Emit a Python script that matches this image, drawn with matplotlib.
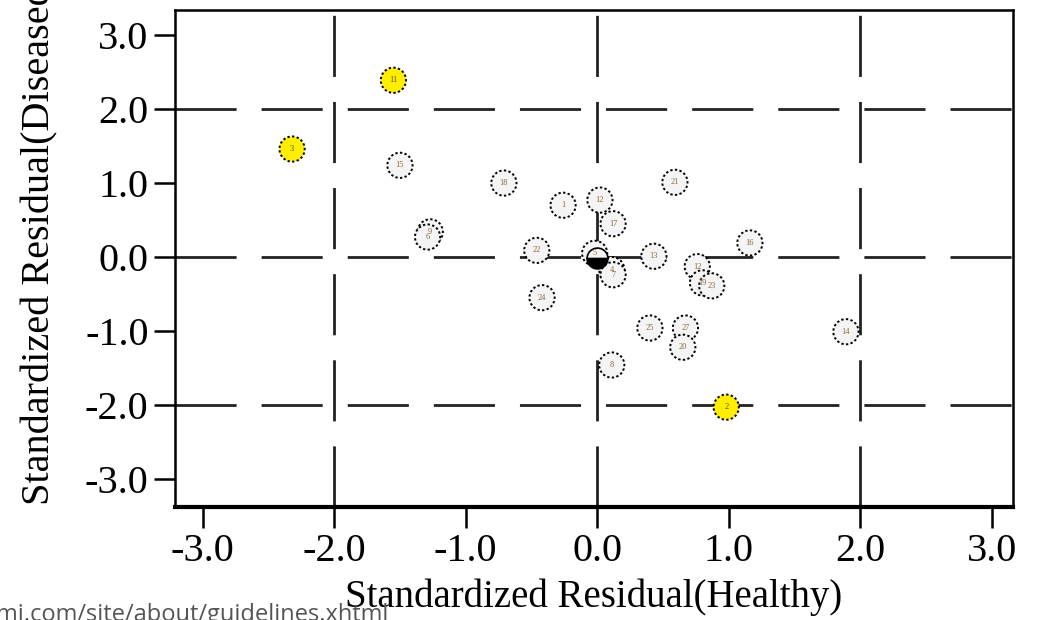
import matplotlib.pyplot as plt

# residual points (healthy, diseased)
flag_x = [-1.55, -2.32, 0.98]
flag_y = [2.39, 1.46, -2.03]
flag_lab = ["11", "3", "2"]

pt_x = [-1.50, -1.27, -1.29, -0.71, -0.26, 0.02, 0.12, 0.59, -0.46, -0.02,
        0.11, 0.12, 0.43, 1.16, 0.76, 0.80, 0.87, -0.42, 0.40, 0.67,
        0.65, 0.11, 1.89]
pt_y = [1.24, 0.34, 0.27, 1.00, 0.70, 0.77, 0.45, 1.01, 0.09, 0.05,
        -0.17, -0.24, 0.01, 0.19, -0.13, -0.35, -0.39, -0.55, -0.96, -0.96,
        -1.22, -1.46, -1.01]
pt_lab = ["15", "9", "6", "18", "1", "12", "17", "21", "22", "5",
          "4", "7", "13", "16", "12", "19", "23", "24", "25", "27",
          "20", "8", "14"]

ticks = [-3, -2, -1, 0, 1, 2, 3]
tick_labels = ["-3.0", "-2.0", "-1.0", "0.0", "1.0", "2.0", "3.0"]

plt.rcParams['font.family'] = ['Liberation Serif', 'DejaVu Serif']

fig = plt.figure(figsize=(10.38, 6.2), dpi=100)
ax = fig.add_axes([175 / 1038, 1 - 507 / 620, 838 / 1038, 497 / 620])

for v in [-2, 0, 2]:
    ax.axvline(v, color="#222222", lw=2, dashes=(22, 9), zorder=1)
    ax.axhline(v, color="#222222", lw=2, dashes=(22, 9), zorder=1)

ax.scatter(pt_x, pt_y, s=330, facecolor="#f4f4f4", edgecolor="black",
           linewidths=1.4, linestyle=(0, (1.2, 1.2)), zorder=3)
ax.scatter(flag_x, flag_y, s=330, facecolor="#ffee00", edgecolor="black",
           linewidths=1.4, linestyle=(0, (1.2, 1.2)), zorder=3)
ax.plot([0.0], [-0.01], marker="o", ms=15, fillstyle="bottom",
        markerfacecolor="black", markerfacecoloralt="#f4f4f4",
        markeredgecolor="black", markeredgewidth=1.2, zorder=4)

for x, y, t in zip(pt_x, pt_y, pt_lab):
    ax.text(x, y, t, fontsize=6, color="#8a6a40", ha="center", va="center", zorder=5)
for x, y, t in zip(flag_x, flag_y, flag_lab):
    ax.text(x, y, t, fontsize=6, color="#555500", ha="center", va="center", zorder=5)

ax.set_xlim(-3.21, 3.16)
ax.set_ylim(-3.38, 3.34)
ax.set_xticks(ticks)
ax.set_xticklabels(tick_labels)
ax.set_yticks(ticks)
ax.set_yticklabels(tick_labels)
ax.tick_params(labelsize=29, length=15, width=1.8, direction="out", pad=4)

for side in ["top", "left", "right"]:
    ax.spines[side].set_linewidth(1.8)
ax.spines["bottom"].set_linewidth(3)

fig.text(-0.004, -0.002, "mi.com/site/about/guidelines.xhtml",
         family="Open Sans", fontsize=17, color="#555555",
         ha="left", va="baseline", zorder=0)

ax.set_xlabel("Standardized Residual(Healthy)", fontsize=28, labelpad=6)
fig.text(40 / 1038, 1 - 238 / 620, "Standardized Residual(Diseased)",
         fontsize=29, rotation=90, ha="center", va="center")

fig.savefig("out.png", dpi=100)
